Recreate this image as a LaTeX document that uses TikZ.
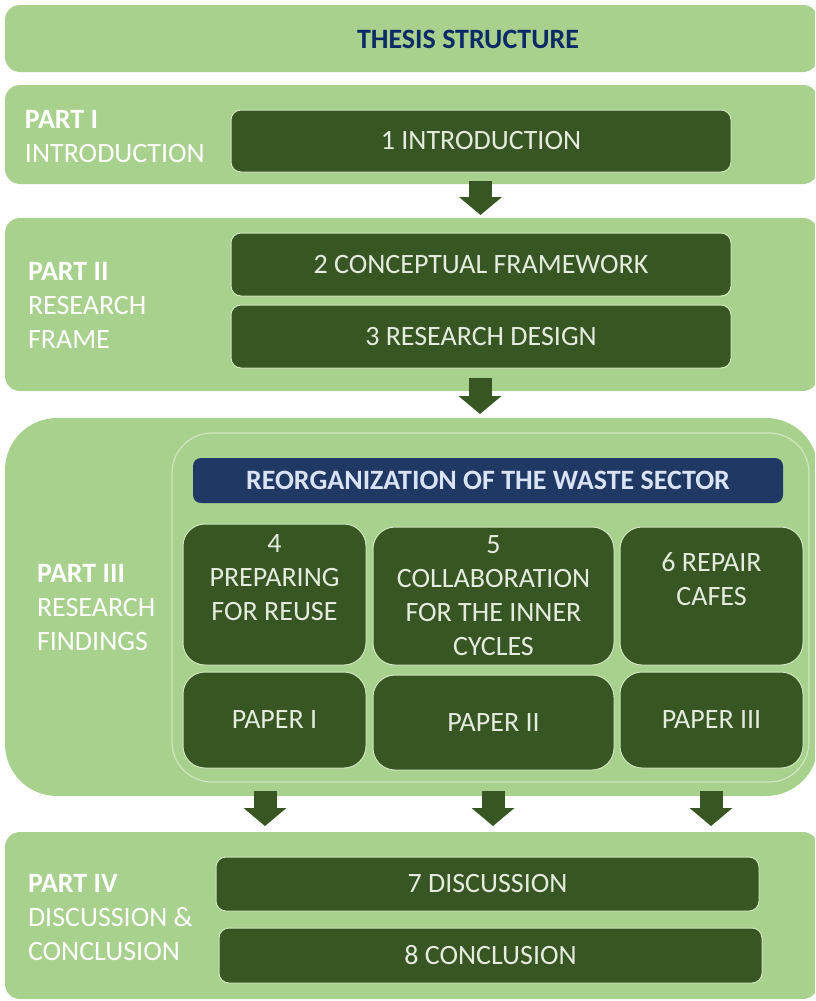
\documentclass[tikz,border=0pt]{standalone}
\usepackage{fontspec}
\setmainfont{Carlito}
\usetikzlibrary{arrows.meta}
\definecolor{lgreen}{HTML}{A9D18E}
\definecolor{dgreen}{HTML}{375623}
\definecolor{navy}{HTML}{1F3864}
\definecolor{titlenavy}{HTML}{0B2A66}
\definecolor{boxtxt}{HTML}{E4ECDD}
\definecolor{bannertxt}{HTML}{DAE3F3}
\definecolor{edge}{HTML}{CFE5C0}
\begin{document}
\begin{tikzpicture}[x=0.5pt,y=-0.5pt,
  every node/.style={inner sep=0pt, outer sep=0pt, font=\fontsize{14}{17}\selectfont},
  part/.style={fill=lgreen, rectangle, rounded corners=7.5pt, minimum width=406.5pt},
  dbox/.style={fill=dgreen, draw=edge, line width=0.5pt, rounded corners=5pt, text=boxtxt},
  cell/.style={fill=dgreen, draw=edge, line width=0.5pt, rounded corners=11pt},
  celltext/.style={text=boxtxt, align=center},
  partlabel/.style={anchor=west, align=left, text=white},
  downarrow/.style={draw=dgreen, line width=11.5pt, -{Triangle[width=21pt,length=9pt]}}
]
\useasboundingbox (0,0) rectangle (815,1001);
\clip (0,0) rectangle (815,1001);

% title
\node[part, minimum height=33.5pt] (title) at (411.5,38.5) {};
\node[text=titlenavy, font=\fontsize{14}{17}\selectfont\bfseries] (titletext) at (468,39) {THESIS STRUCTURE};

% Part I
\node[part, minimum height=49.5pt] (p1) at (411.5,134.5) {};
\node[partlabel] (p1lab) at (25,137) {\textbf{PART I}\\INTRODUCTION};
\node[dbox, minimum width=250pt, minimum height=31pt] (b1) at (481,141) {1 INTRODUCTION};

% Part II
\node[part, minimum height=86.5pt] (p2) at (411.5,304.5) {};
\node[partlabel] (p2lab) at (28,305) {\textbf{PART II}\\RESEARCH\\FRAME};
\node[dbox, minimum width=250pt, minimum height=31.5pt] (b2) at (481,264.5) {2 CONCEPTUAL FRAMEWORK};
\node[dbox, minimum width=250pt, minimum height=31.5pt] (b3) at (481,336.5) {3 RESEARCH DESIGN};

% Part III
\node[part, rounded corners=26pt, minimum height=189pt] (p3) at (411.5,607) {};
\node[partlabel] (p3lab) at (37,608) {\textbf{PART III}\\RESEARCH\\FINDINGS};
\node[fill=lgreen, draw=edge, line width=0.6pt, rounded corners=20pt, minimum width=318.5pt, minimum height=174.5pt] (inner) at (490.5,607.5) {};
\node[fill=navy, rounded corners=4pt, minimum width=295pt, minimum height=22.5pt, text=bannertxt, font=\fontsize{14}{17}\selectfont\bfseries] (banner) at (488,480.5) {REORGANIZATION OF THE WASTE SECTOR};

\node[cell, minimum width=91.5pt, minimum height=70.5pt] (c4) at (274.5,594.5) {};
\node[cell, minimum width=120.5pt, minimum height=69pt] (c5) at (493.5,596) {};
\node[cell, minimum width=91.5pt, minimum height=69pt] (c6) at (711.5,596) {};
\node[celltext] (t4) at (274.5,578) {4\\PREPARING\\FOR REUSE};
\node[celltext] (t5) at (493.5,596) {5\\COLLABORATION\\FOR THE INNER\\CYCLES};
\node[celltext] (t6) at (711.5,579) {6 REPAIR\\CAFES};

\node[cell, minimum width=91.5pt, minimum height=48pt, text=boxtxt] (pa1) at (274.5,720) {PAPER I};
\node[cell, minimum width=120.5pt, minimum height=47.5pt, text=boxtxt] (pa2) at (493.5,722.5) {PAPER II};
\node[cell, minimum width=91.5pt, minimum height=48pt, text=boxtxt] (pa3) at (711.5,720) {PAPER III};

% Part IV
\node[part, minimum height=83.5pt] (p4) at (411.5,915.5) {};
\node[partlabel] (p4lab) at (28,918) {\textbf{PART IV}\\DISCUSSION \&\\CONCLUSION};
\node[dbox, minimum width=271.5pt, minimum height=27pt] (b7) at (487.5,884) {7 DISCUSSION};
\node[dbox, minimum width=271.5pt, minimum height=27.5pt] (b8) at (490.5,955.5) {8 CONCLUSION};

% arrows
\coordinate (a1s) at (480.5,181);
\coordinate (a1e) at (480.5,215);
\coordinate (a2s) at (480,378);
\coordinate (a2e) at (480,414);
\coordinate (a3s) at (265,791);
\coordinate (a3e) at (265,826);
\coordinate (a4s) at (493,791);
\coordinate (a4e) at (493,826);
\coordinate (a5s) at (711,791);
\coordinate (a5e) at (711,826);
\draw[downarrow] (a1s) -- (a1e);
\draw[downarrow] (a2s) -- (a2e);
\draw[downarrow] (a3s) -- (a3e);
\draw[downarrow] (a4s) -- (a4e);
\draw[downarrow] (a5s) -- (a5e);
\end{tikzpicture}
\end{document}
